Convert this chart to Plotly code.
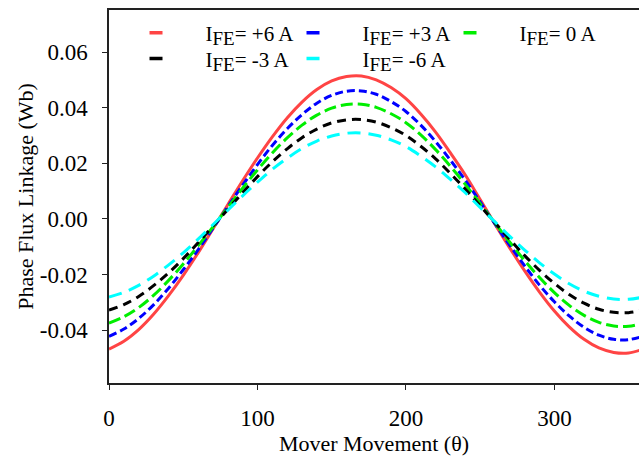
import plotly.graph_objects as go

# Mover position (degrees)
theta = list(range(0, 361, 10))

# Phase flux linkage (Wb) for each field current
flux_p6 = [-0.0468, -0.0440, -0.0398, -0.0343, -0.0277, -0.0203, -0.0122, -0.0036, 0.0051, 0.0137,
           0.0219, 0.0295, 0.0363, 0.0420, 0.0465, 0.0496, 0.0512, 0.0514, 0.0500, 0.0472,
           0.0432, 0.0377, 0.0312, 0.0237, 0.0158, 0.0070, -0.0019, -0.0105, -0.0187, -0.0263,
           -0.0331, -0.0388, -0.0433, -0.0464, -0.0480, -0.0482, -0.0468]
flux_p3 = [-0.0422, -0.0396, -0.0358, -0.0309, -0.0250, -0.0183, -0.0111, -0.0034, 0.0044, 0.0121,
           0.0195, 0.0264, 0.0324, 0.0375, 0.0416, 0.0444, 0.0459, 0.0460, 0.0448, 0.0422,
           0.0386, 0.0337, 0.0278, 0.0211, 0.0139, 0.0061, -0.0018, -0.0095, -0.0169, -0.0238,
           -0.0298, -0.0349, -0.0390, -0.0418, -0.0433, -0.0434, -0.0422]
flux_0 = [-0.0375, -0.0352, -0.0319, -0.0275, -0.0222, -0.0162, -0.0097, -0.0029, 0.0041, 0.0110,
          0.0176, 0.0237, 0.0291, 0.0337, 0.0373, 0.0398, 0.0411, 0.0412, 0.0401, 0.0378,
          0.0346, 0.0302, 0.0249, 0.0189, 0.0124, 0.0055, -0.0015, -0.0084, -0.0150, -0.0211,
          -0.0265, -0.0311, -0.0347, -0.0372, -0.0385, -0.0386, -0.0375]
flux_m3 = [-0.0328, -0.0308, -0.0279, -0.0240, -0.0195, -0.0143, -0.0086, -0.0026, 0.0034, 0.0094,
           0.0152, 0.0205, 0.0252, 0.0292, 0.0323, 0.0345, 0.0356, 0.0357, 0.0348, 0.0328,
           0.0300, 0.0261, 0.0216, 0.0163, 0.0107, 0.0047, -0.0014, -0.0074, -0.0132, -0.0185,
           -0.0232, -0.0272, -0.0303, -0.0325, -0.0336, -0.0337, -0.0328]
flux_m6 = [-0.0281, -0.0264, -0.0239, -0.0206, -0.0166, -0.0122, -0.0073, -0.0021, 0.0031, 0.0083,
           0.0132, 0.0178, 0.0218, 0.0253, 0.0280, 0.0298, 0.0308, 0.0309, 0.0301, 0.0284,
           0.0260, 0.0226, 0.0187, 0.0142, 0.0094, 0.0041, -0.0011, -0.0063, -0.0112, -0.0158,
           -0.0198, -0.0233, -0.0260, -0.0278, -0.0288, -0.0289, -0.0281]

labels = ["+6 A", "+3 A", "0 A", "-3 A", "-6 A"]
series = [flux_p6, flux_p3, flux_0, flux_m3, flux_m6]
colors = ["#FF4444", "#0000FF", "#00EE00", "#000000", "#00FFFF"]
dashes = ["solid", "8px,4px", "12px,5px", "9px,6px", "13px,8px"]
legend_rows = ["legend", "legend", "legend", "legend2", "legend2"]

xticks = [0, 100, 200, 300]
yticks = [0.06, 0.04, 0.02, 0.00, -0.02, -0.04]
ytick_text = ["0.06", "0.04", "0.02", "0.00", "-0.02", "-0.04"]

FONT = "Times New Roman, Liberation Serif, serif"
fig = go.Figure()
for ys, c, d in zip(series, colors, dashes):
    fig.add_trace(go.Scatter(x=theta, y=ys, mode="lines", showlegend=False,
                             line=dict(color=c, width=3, dash=d, shape="spline", smoothing=1.0)))
# legend entries (short symbol)
for lab, c, lg in zip(labels, colors, legend_rows):
    name = "\u00a0" * 4 + "I<sub><span style='font-size:19px'>FE</span></sub>= " + lab
    fig.add_trace(go.Scatter(x=[None], y=[None], mode="lines", name=name, legend=lg,
                             line=dict(color=c, width=3.5, dash="13px,60px")))

axis_common = dict(showline=True, linecolor="#222", linewidth=1.5, ticks="outside", ticklen=5,
                   tickcolor="#222", showgrid=False, zeroline=False,
                   tickfont=dict(family=FONT, size=23, color="black"))

legend_common = dict(orientation="h", x=0.067, xanchor="left", yanchor="top",
                     entrywidth=112, entrywidthmode="pixels", bgcolor="rgba(0,0,0,0)",
                     font=dict(family=FONT, size=21, color="black"), tracegroupgap=0)

fig.update_layout(
    width=639, height=461,
    margin=dict(l=109, r=0, t=10, b=78),
    paper_bgcolor="white", plot_bgcolor="white",
    font=dict(family=FONT, size=22, color="black"),
    showlegend=True,
    legend=dict(y=0.993, **legend_common),
    legend2=dict(y=0.924, **legend_common),
    xaxis=dict(range=[0, 357], tickvals=xticks, mirror=True, ticklabelstandoff=9,
               automargin=True,
               title=dict(text="Mover Movement (θ)", font=dict(family=FONT, size=22), standoff=2),
               **axis_common),
    yaxis=dict(range=[-0.059, 0.0751], tickvals=yticks, ticktext=ytick_text,
               ticklabelstandoff=10, automargin=True,
               title=dict(text="Phase Flux Linkage (Wb)", font=dict(family=FONT, size=22), standoff=0),
               **axis_common),
)
fig.write_html("out.html")
